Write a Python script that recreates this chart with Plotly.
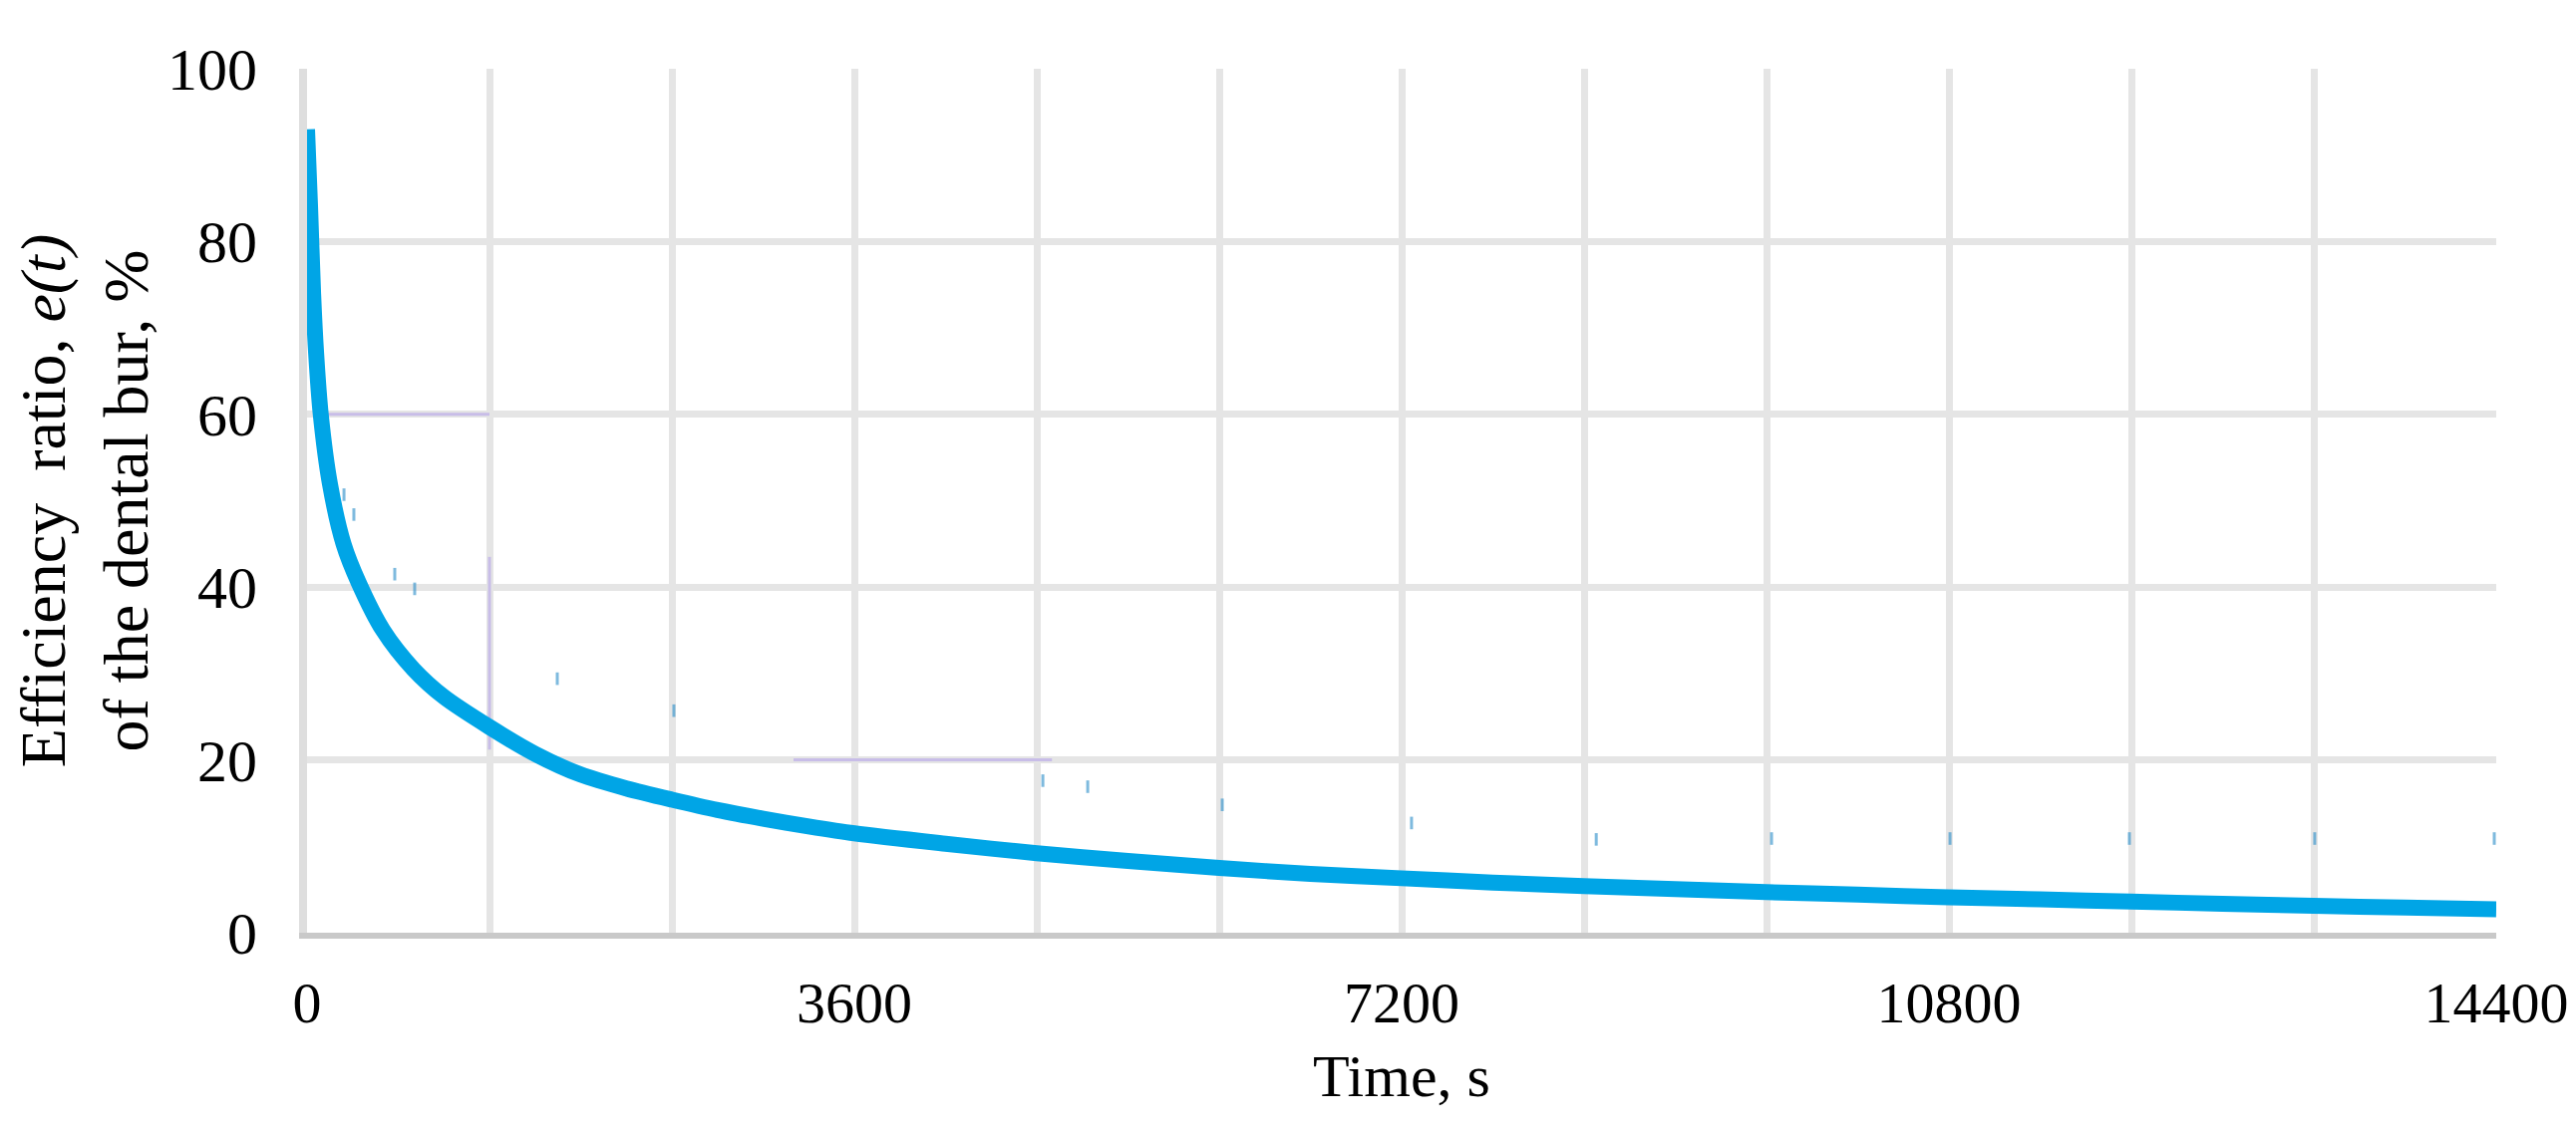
import plotly.graph_objects as go

# ---- data ----
time_s = [0, 20, 40, 60, 90, 150, 240, 340, 500, 700, 900, 1200, 1500, 1800,
          2100, 2400, 2700, 3000, 3300, 3600, 4200, 4800, 5400, 6000, 6600,
          7200, 7800, 8400, 9000, 9600, 10200, 10800, 11400, 12000, 12600,
          13200, 13800, 14400]
efficiency = [93, 84, 74, 67, 60, 52, 45, 40.5, 35, 30.5, 27.3, 23.8, 20.7, 18.3,
              16.7, 15.4, 14.2, 13.2, 12.3, 11.5, 10.3, 9.2, 8.3, 7.5, 6.8,
              6.3, 5.8, 5.4, 5.05, 4.7, 4.4, 4.1, 3.85, 3.6, 3.35,
              3.1, 2.9, 2.7]

# faint ghost marks visible in the picture
ghost_t = [243, 308, 577, 708, 1646, 2413, 4840, 5135, 6020, 7265, 8480,
           9633, 10807, 11987, 13206, 14387]
ghost_v = [50.7, 48.4, 41.5, 39.8, 29.4, 25.7, 17.6, 16.9, 14.8, 12.7, 10.8,
           10.9, 10.9, 10.9, 10.9, 10.9]

# faint lavender guide lines
guide_a_t = [72, 1200]
guide_a_v = [60, 60]
guide_b_t = [1200, 1200]
guide_b_v = [21.2, 43.5]
guide_c_t = [3200, 4900]
guide_c_v = [20, 20]

x_ticks = [0, 3600, 7200, 10800, 14400]
x_tick_labels = ["0", "3600", "7200", "10800", "14400"]
y_ticks = [0, 20, 40, 60, 80, 100]
y_tick_labels = ["0", "20", "40", "60", "80", "100"]

FONT = "Liberation Serif, Times New Roman, serif"
LAV = "rgba(196,184,232,0.9)"

fig = go.Figure()
for gx, gy in [(guide_a_t, guide_a_v), (guide_b_t, guide_b_v), (guide_c_t, guide_c_v)]:
    fig.add_trace(go.Scatter(x=gx, y=gy, mode="lines",
                             line=dict(color=LAV, width=3), showlegend=False,
                             hoverinfo="skip"))
fig.add_trace(go.Scatter(x=ghost_t, y=ghost_v, mode="markers",
                         marker=dict(symbol="line-ns", size=9,
                                     line=dict(color="rgba(40,140,200,0.6)", width=3)),
                         showlegend=False, hoverinfo="skip"))
fig.add_trace(go.Scatter(x=time_s, y=efficiency, mode="lines",
                         line=dict(color="#00A5E6", width=16, shape="spline", smoothing=0.8),
                         showlegend=False))

fig.update_layout(
    width=2584, height=1135, autosize=False,
    margin=dict(l=300, r=88, t=61, b=207),
    paper_bgcolor="white", plot_bgcolor="white",
    font=dict(family=FONT, color="black"),
    xaxis=dict(
        range=[0, 14400], tickvals=x_ticks, ticktext=x_tick_labels, ticks="",
        tickfont=dict(size=58, family=FONT, color="black"),
        ticklabelstandoff=14,
        showgrid=True, gridcolor="#e5e5e5", gridwidth=7,
        minor=dict(dtick=1200, tick0=0, showgrid=True, gridcolor="#e5e5e5", gridwidth=7),
        showline=True, linecolor="#c9c9c9", linewidth=6,
        zeroline=False,
        title=dict(text="Time, s", font=dict(size=60, family=FONT, color="black"),
                   standoff=22),
    ),
    yaxis=dict(
        range=[0, 100], tickvals=y_ticks, ticktext=y_tick_labels, ticks="",
        tickfont=dict(size=60, family=FONT, color="black"),
        ticklabelstandoff=30,
        showgrid=True, gridcolor="#e5e5e5", gridwidth=7,
        showline=True, linecolor="#dedede", linewidth=8,
        zeroline=False,
        title=dict(text="Efficiency  ratio, <i>e(t)</i><br>of the dental bur, %",
                   font=dict(size=64, family=FONT, color="black"), standoff=16),
    ),
)

fig.write_html("out.html")
